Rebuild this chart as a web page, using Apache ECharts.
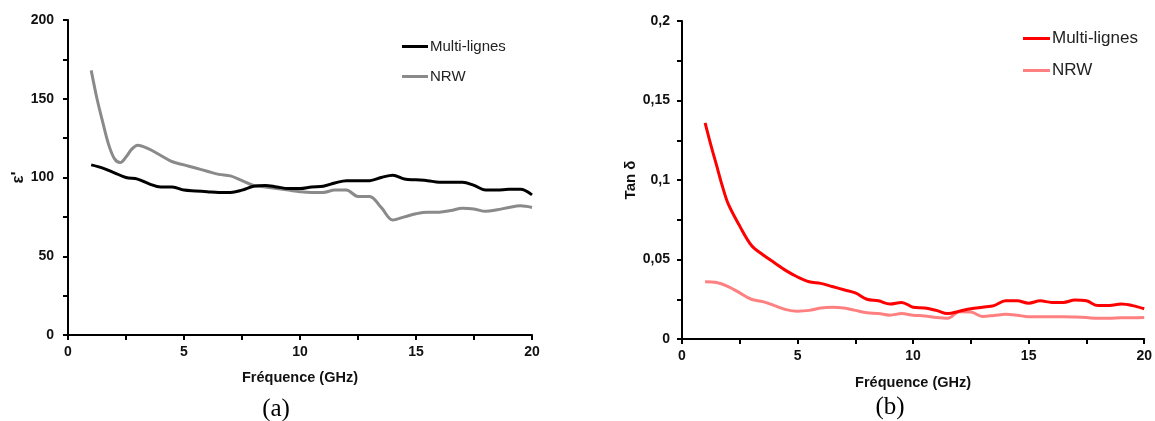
<!DOCTYPE html>
<html>
<head>
<meta charset="utf-8">
<script src="https://cdn.jsdelivr.net/npm/echarts@6/dist/echarts.min.js"></script>
<style>
html,body{margin:0;padding:0;background:#fff;}
#chart{width:1155px;height:421px;}
</style>
</head>
<body>
<div id="chart"></div>
<script>
// ---- Data: panel (a) permittivity ε'
const freqA_ML = [1,1.5,2,2.5,3,3.5,4,4.5,5,5.5,6,6.5,7,7.5,8,8.5,9,9.5,10,10.5,11,11.5,12,12.5,13,13.5,14,14.5,15,15.5,16,16.5,17,17.5,18,18.5,19,19.5,20];
const epsA_ML  = [108,106,103,100,99,96,94,94,92,91.5,91,90.5,90.5,92,94.5,95,94,93,93,94,94.5,96.5,98,98,98,100,101.5,99,98.5,98,97,97,97,95,92,92,92.5,92.5,89];
const freqA_NRW = [1,1.25,1.5,1.75,2,2.25,2.5,2.75,3,3.5,4,4.5,5,5.5,6,6.5,7,7.5,8,8.5,9,9.5,10,10.5,11,11.5,12,12.5,13,13.5,14,14.5,15,15.5,16,16.5,17,17.5,18,18.5,19,19.5,20];
const epsA_NRW  = [168,150,135,121,112,109.5,113,118,120.5,118,114,110,108,106,104,102,101,98,95,94,93,92,91,90.5,90.5,92,92,88,88,81,73,75,77,78,78,79,80.5,80,78.5,79.5,81,82,81];

// ---- Data: panel (b) loss tangent
const freqB_ML = [1,1.25,1.5,1.75,2,2.5,3,3.5,4,4.5,5,5.5,6,6.5,7,7.5,8,8.5,9,9.5,10,10.5,11,11.5,12,12.5,13,13.5,14,14.5,15,15.5,16,16.5,17,17.5,18,18.5,19,19.5,20];
const tanB_ML  = [0.136,0.122,0.109,0.096,0.085,0.071,0.059,0.053,0.048,0.043,0.039,0.036,0.035,0.033,0.031,0.029,0.025,0.024,0.022,0.023,0.020,0.0195,0.018,0.016,0.0175,0.019,0.020,0.021,0.024,0.024,0.0225,0.024,0.023,0.023,0.0245,0.024,0.021,0.021,0.022,0.021,0.019];
const freqB_NRW = [1,1.5,2,2.5,3,3.5,4,4.5,5,5.5,6,6.5,7,7.5,8,8.5,9,9.5,10,10.5,11,11.5,12,12.5,13,13.5,14,14.5,15,15.5,16,16.5,17,17.5,18,18.5,19,19.5,20];
const tanB_NRW  = [0.036,0.0355,0.033,0.029,0.025,0.0235,0.021,0.0185,0.0175,0.018,0.0195,0.020,0.0195,0.018,0.0165,0.016,0.015,0.016,0.015,0.0145,0.0135,0.013,0.0172,0.017,0.0142,0.0148,0.0156,0.015,0.014,0.014,0.014,0.014,0.0138,0.0135,0.013,0.013,0.0133,0.0133,0.0135];

// ---- Tick labels / text
const yTickLabelsB = ['0','0,05','0,1','0,15','0,2'];
const seriesNames = ['Multi-lignes','NRW'];
const xAxisTitle = 'Fréquence (GHz)';
const yAxisTitleA = "ε'";
const yAxisTitleB = 'Tan δ';
const captions = ['(a)','(b)'];

function pairs(xs, ys){ return xs.map((x,i)=>[x, ys[i]]); }

const SANS = '"Liberation Sans", Arial, sans-serif';
const SERIF = '"Liberation Serif", "Times New Roman", serif';
const axisLineStyle = {color:'#000', width:2};

function makeXAxis(gridIndex, gap){
  return {
    type:'value', gridIndex, min:0, max:20, interval:5,
    name: xAxisTitle, nameLocation:'middle', nameGap:gap,
    nameTextStyle:{fontFamily:SANS, fontWeight:'bold', fontSize:14.5, color:'#111'},
    axisLine:{show:true, onZero:false, lineStyle:axisLineStyle},
    axisTick:{show:true, length:5, lineStyle:axisLineStyle},
    minorTick:{show:true, splitNumber:2, length:5, lineStyle:axisLineStyle},
    splitLine:{show:false},
    axisLabel:{fontFamily:SANS, fontWeight:'bold', fontSize:14, color:'#111', margin:10}
  };
}

const option = {
  animation:false,
  backgroundColor:'#fff',
  grid:[
    {left:68, top:20, width:464, height:315},
    {left:682, top:21, width:465, height:318}
  ],
  xAxis:[ makeXAxis(0, 35), makeXAxis(1, 36) ],
  yAxis:[
    {
      type:'value', gridIndex:0, min:0, max:200, interval:50,
      name:yAxisTitleA, nameLocation:'middle', nameGap:40,
      nameTextStyle:{fontFamily:SANS, fontWeight:'bold', fontSize:17, color:'#111'},
      axisLine:{show:true, lineStyle:axisLineStyle},
      axisTick:{show:true, length:5, lineStyle:axisLineStyle},
      minorTick:{show:true, splitNumber:2, length:5, lineStyle:axisLineStyle},
      splitLine:{show:false},
      axisLabel:{fontFamily:SANS, fontWeight:'bold', fontSize:14, color:'#111', margin:14}
    },
    {
      type:'value', gridIndex:1, min:0, max:0.2, interval:0.05,
      name:yAxisTitleB, nameLocation:'middle', nameGap:44,
      nameTextStyle:{fontFamily:SANS, fontWeight:'bold', fontSize:15, color:'#111'},
      axisLine:{show:true, lineStyle:axisLineStyle},
      axisTick:{show:true, length:5, lineStyle:axisLineStyle},
      minorTick:{show:true, splitNumber:2, length:5, lineStyle:axisLineStyle},
      splitLine:{show:false},
      axisLabel:{fontFamily:SANS, fontWeight:'bold', fontSize:14, color:'#111', margin:12,
        formatter:(v)=> yTickLabelsB[Math.round(v/0.05)]}
    }
  ],
  legend:[
    {
      orient:'vertical', left:397, top:34, itemWidth:26, itemHeight:3, itemGap:15,
      icon:'rect',
      data:[seriesNames[0], seriesNames[1]],
      textStyle:{fontFamily:SANS, fontSize:15, color:'#222', padding:[0,0,0,-3]}
    },
    {
      orient:'vertical', left:1018, top:25, itemWidth:27, itemHeight:3, itemGap:15,
      icon:'rect',
      data:[seriesNames[0]+' ', seriesNames[1]+' '],
      formatter:(n)=>n.trim(),
      textStyle:{fontFamily:SANS, fontSize:17, color:'#222', padding:[0,0,0,-3]}
    }
  ],
  series:[
    {name:seriesNames[0], type:'line', xAxisIndex:0, yAxisIndex:0, data:pairs(freqA_ML, epsA_ML),
      symbol:'none', smooth:0.35, color:'#000', lineStyle:{color:'#000', width:3}, z:3},
    {name:seriesNames[1], type:'line', xAxisIndex:0, yAxisIndex:0, data:pairs(freqA_NRW, epsA_NRW),
      symbol:'none', smooth:0.35, color:'#8a8a8a', lineStyle:{color:'#8a8a8a', width:3}, z:2},
    {name:seriesNames[0]+' ', type:'line', xAxisIndex:1, yAxisIndex:1, data:pairs(freqB_ML, tanB_ML),
      symbol:'none', smooth:0.35, color:'#ff0000', lineStyle:{color:'#ff0000', width:3}, z:3},
    {name:seriesNames[1]+' ', type:'line', xAxisIndex:1, yAxisIndex:1, data:pairs(freqB_NRW, tanB_NRW),
      symbol:'none', smooth:0.35, color:'#ff8080', lineStyle:{color:'#ff8080', width:3}, z:2}
  ],
  graphic:[
    {type:'text', x:276, y:409, style:{text:captions[0], font:'25px ' + SERIF, fill:'#000',
      align:'center', verticalAlign:'middle', textAlign:'center', textVerticalAlign:'middle'}},
    {type:'text', x:890, y:407, style:{text:captions[1], font:'25px ' + SERIF, fill:'#000',
      align:'center', verticalAlign:'middle', textAlign:'center', textVerticalAlign:'middle'}}
  ]
};

const chart = echarts.init(document.getElementById('chart'), null, {renderer:'canvas'});
chart.setOption(option);
</script>
</body>
</html>
